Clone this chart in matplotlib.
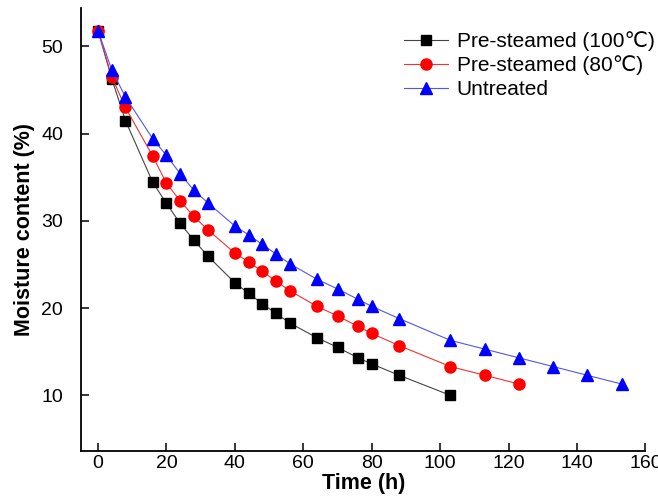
import matplotlib
matplotlib.use("Agg")
import matplotlib.pyplot as plt

# Font list so the degree-Celsius sign falls back if missing
plt.rcParams["font.family"] = ["Liberation Sans", "DejaVu Sans", "Noto Sans CJK SC"]

# Drying times (h)
time_100 = [0, 4, 8, 16, 20, 24, 28, 32, 40, 44, 48, 52, 56, 64, 70, 76, 80, 88, 103]
time_80 = time_100 + [113, 123]
time_raw = time_80 + [133, 143, 153]

# Moisture content (%)
moist_100 = [51.8, 46.3, 41.5, 34.4, 32.0, 29.7, 27.8, 26.0, 22.9, 21.7, 20.5,
             19.4, 18.3, 16.6, 15.5, 14.3, 13.6, 12.3, 10.0]
moist_80 = [51.8, 46.5, 43.0, 37.4, 34.3, 32.3, 30.5, 29.0, 26.3, 25.3, 24.2,
            23.1, 22.0, 20.2, 19.1, 17.9, 17.1, 15.7, 13.3, 12.3, 11.3]
moist_raw = [51.8, 47.3, 44.2, 39.4, 37.5, 35.4, 33.5, 32.1, 29.4, 28.4, 27.3,
             26.2, 25.1, 23.3, 22.2, 21.0, 20.2, 18.8, 16.3, 15.3, 14.3, 13.3,
             12.3, 11.3]

labels = ["Pre-steamed (100\u2103)", "Pre-steamed (80\u2103)", "Untreated"]

fig = plt.figure(figsize=(6.58, 4.98), dpi=100)
ax = fig.add_axes([0.123, 0.094, 0.858, 0.890])

ax.plot(time_100, moist_100, color="#444444", lw=0.8, marker="s", ms=7,
        mfc="black", mec="black", label=labels[0])
ax.plot(time_80, moist_80, color="#ee3333", lw=0.8, marker="o", ms=8,
        mfc="red", mec="red", label=labels[1])
ax.plot(time_raw, moist_raw, color="#5555ee", lw=0.8, marker="^", ms=9,
        mfc="blue", mec="blue", label=labels[2])

# Axis ranges and ticks
ax.set_xlim(-5, 160)
ax.set_ylim(3.6, 54.4)
ax.set_xticks(range(0, 161, 20))
ax.set_yticks([10, 20, 30, 40, 50])

# Origin-like look: only left and bottom spines, ticks pointing in
ax.spines["top"].set_visible(False)
ax.spines["right"].set_visible(False)
ax.spines["left"].set_linewidth(1.3)
ax.spines["bottom"].set_linewidth(1.3)
ax.tick_params(direction="in", length=6, width=1.1, labelsize=14)
ax.tick_params(axis="x", pad=2.5)
ax.tick_params(axis="y", pad=13)

ax.set_xlabel("Time (h)", fontsize=15.5, fontweight="bold", labelpad=1)
ax.set_ylabel("Moisture content (%)", fontsize=15.5, fontweight="bold", labelpad=4)

ax.legend(loc="upper right", bbox_to_anchor=(1.049, 0.99), frameon=False,
          fontsize=15, handlelength=2.1, handletextpad=0.4, labelspacing=0.22)

plt.savefig("out.png", dpi=100)
plt.close()
